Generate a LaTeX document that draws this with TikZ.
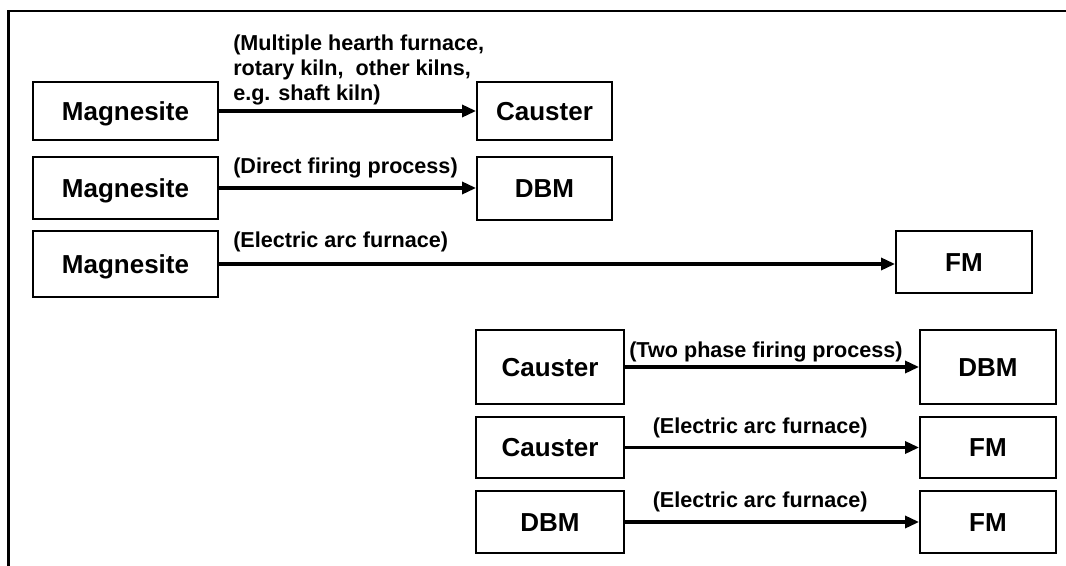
\documentclass[tikz,border=0pt]{standalone}
\usepackage{fontspec}
\setmainfont{Liberation Sans}
\usetikzlibrary{arrows.meta}
\begin{document}
\begin{tikzpicture}[x=0.75pt,y=-0.75pt,
  box/.style={draw,line width=1.4pt,inner sep=0pt,text height=14pt,text depth=0pt,font=\fontsize{19.5}{22}\selectfont\bfseries},
  lbl/.style={anchor=base west,inner sep=0pt,font=\fontsize{16.2}{19.1}\selectfont\bfseries,align=left},
  arr/.style={line width=2.4pt,-{Triangle[length=10.5pt,width=9pt]}},
  frame/.style={line width=2pt}]
\useasboundingbox (0,0) rectangle (1066,566);
\draw[frame] (8.5,567) -- (8.5,11) -- (1067,11);
% left column
\node[box,minimum width=138.75pt,minimum height=43.5pt] (m1) at (125.5,111) {Magnesite};
\node[box,minimum width=138.75pt,minimum height=46.5pt] (m2) at (125.5,188) {Magnesite};
\node[box,minimum width=138.75pt,minimum height=49.5pt] (m3) at (125.5,264) {Magnesite};
\node[box,minimum width=101.25pt,minimum height=43.5pt] (c1) at (544.5,111) {Causter};
\node[box,minimum width=101.25pt,minimum height=47.25pt] (d1) at (544.5,188.5) {DBM};
\node[box,minimum width=102pt,minimum height=46.5pt] (f1) at (964,262) {FM};
% lower group
\node[box,minimum width=111pt,minimum height=55.5pt] (c2) at (550,367) {Causter};
\node[box,minimum width=102pt,minimum height=55.5pt] (d2) at (988,367) {DBM};
\node[box,minimum width=111pt,minimum height=45.75pt] (c3) at (550,447.5) {Causter};
\node[box,minimum width=102pt,minimum height=45.75pt] (f2) at (988,447.5) {FM};
\node[box,minimum width=111pt,minimum height=46.5pt] (d3) at (550,522) {DBM};
\node[box,minimum width=102pt,minimum height=46.5pt] (f3) at (988,522) {FM};
% arrows
\draw[arr] (m1.east) -- (c1.west);
\draw[arr] (m2.east) -- (m2.east -| d1.west);
\draw[arr] (m3.east) -- (m3.east -| f1.west);
\draw[arr] (c2.east) -- (d2.west);
\draw[arr] (c3.east) -- (f2.west);
\draw[arr] (d3.east) -- (f3.west);
% labels
\node[lbl] (l1) at (233,101) {(Multiple hearth furnace,\\rotary kiln,\ \ other kilns,\\e.g. shaft kiln)};
\node[lbl] (l2) at (233,173.5) {(Direct firing process)};
\node[lbl] (l3) at (233,247.5) {(Electric arc furnace)};
\node[lbl] (l4) at (629,357.5) {(Two phase firing process)};
\node[lbl] (l5) at (652.5,433.5) {(Electric arc furnace)};
\node[lbl] (l6) at (652.5,507.5) {(Electric arc furnace)};
\end{tikzpicture}
\end{document}
